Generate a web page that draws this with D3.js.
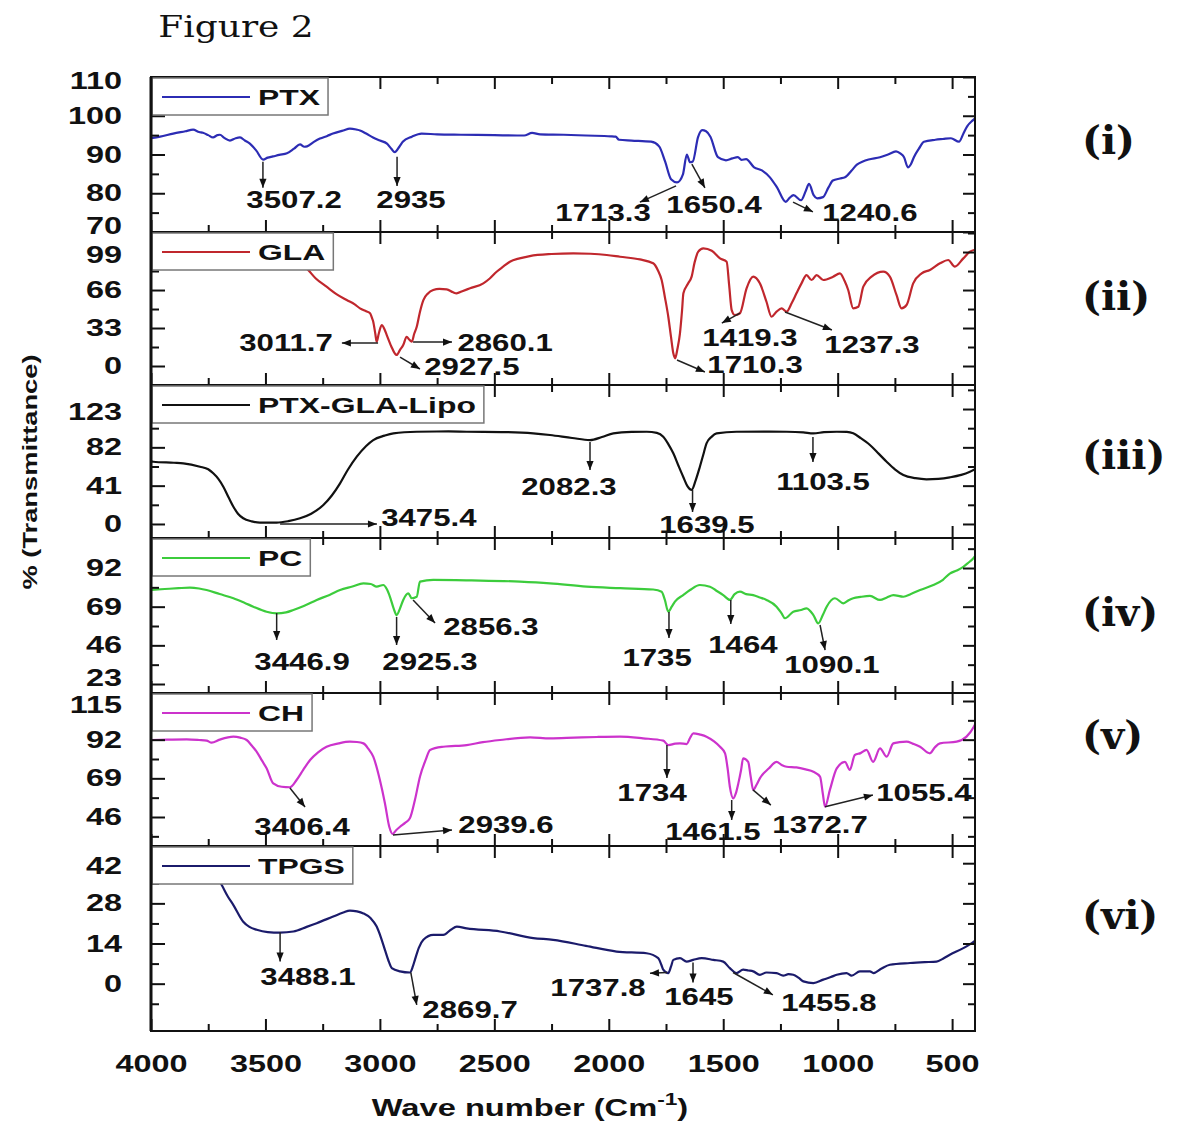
<!DOCTYPE html>
<html>
<head>
<meta charset="utf-8">
<script src="https://cdn.jsdelivr.net/npm/d3@7"></script>
<style>
body { margin: 0; background: #fff; }
svg { display: block; }
text { font-family: "Liberation Sans", Arial, sans-serif; font-weight: bold; fill: #111; }
</style>
</head>
<body>
<svg id="chart" width="1185" height="1126"></svg>
<script>
// spectra: [wave number, % transmittance]
var ptx = [[4000,94.2],[3960,94.6],[3903,95.4],[3850,96.0],[3816,96.4],[3790,95.8],[3773,95.6],[3750,95.0],[3729,94.4],[3710,95.0],[3699,95.1],[3680,94.3],[3655,93.6],[3630,94.2],[3611,94.4],[3590,93.6],[3568,92.8],[3540,91.0],[3510,88.7],[3490,89.2],[3467,89.5],[3440,89.9],[3406,90.3],[3375,91.5],[3349,92.6],[3330,92.0],[3318,92.1],[3290,93.2],[3262,94.1],[3230,94.8],[3205,95.4],[3160,96.2],[3131,96.7],[3100,96.4],[3087,96.2],[3060,95.4],[3030,94.4],[3000,93.6],[2969,92.8],[2950,91.5],[2935,90.6],[2915,92.0],[2900,93.3],[2860,94.6],[2818,95.4],[2750,95.2],[2646,95.1],[2500,95.0],[2400,94.9],[2370,94.9],[2335,95.6],[2300,95.2],[2197,95.1],[2100,94.9],[1990,94.7],[1970,94.6],[1955,93.8],[1900,93.6],[1815,93.3],[1780,92.1],[1754,88.2],[1728,83.6],[1702,82.8],[1676,84.9],[1659,90.0],[1645,88.0],[1633,88.2],[1610,94.5],[1592,96.3],[1575,96.0],[1556,94.6],[1523,89.3],[1488,88.5],[1460,89.0],[1436,89.3],[1420,88.6],[1400,88.8],[1365,86.7],[1331,85.9],[1296,84.1],[1265,81.5],[1227,77.8],[1210,78.8],[1193,79.5],[1160,78.2],[1140,80.5],[1125,82.4],[1105,79.5],[1090,78.7],[1064,79.0],[1040,81.5],[1021,83.3],[990,83.8],[968,84.1],[940,85.8],[916,87.4],[890,88.2],[865,88.7],[815,89.3],[780,90.0],[745,90.8],[725,90.2],[710,89.3],[693,86.7],[680,87.5],[667,89.3],[645,91.5],[623,93.3],[573,93.8],[540,94.0],[505,94.2],[470,93.3],[450,95.5],[435,97.2],[410,98.8],[400,99.3]]

var gla = [[3480,116],[3420,100],[3380,94],[3340,88],[3320,84.8],[3280,76],[3233,68.9],[3190,62.5],[3145,57.3],[3110,53.5],[3087,50.1],[3060,47.5],[3043,45.8],[3035,42],[3029,38.5],[3020,28],[3014,21.1],[3005,28],[2992,35.6],[2980,32],[2970,26.9],[2950,17],[2935,11],[2927,9.6],[2912,14],[2898,18.2],[2883,25.4],[2872,23],[2861,21.1],[2850,28],[2839,34.1],[2825,47],[2810,57.3],[2790,63],[2767,66],[2740,67],[2708,66.6],[2680,64],[2665,63.1],[2640,65],[2606,67.5],[2548,71.8],[2520,76],[2490,81.9],[2460,86.5],[2432,90.6],[2390,93.5],[2345,95.5],[2250,97.3],[2155,97.9],[2080,97.5],[2009,96.4],[1951,94.9],[1864,92.6],[1806,89.2],[1785,83],[1769,74.7],[1755,60],[1740,42.8],[1728,25],[1718,11],[1710,6.7],[1700,15],[1689,28.4],[1680,48],[1674,63.1],[1653,71.8],[1638,77.6],[1625,90],[1609,99.3],[1587,102.2],[1550,100.1],[1514,93.5],[1485,90.6],[1474,70],[1463,48.6],[1449,44.3],[1427,45.8],[1398,67.5],[1369,77.6],[1340,71.8],[1311,55.8],[1289,42.8],[1267,47.2],[1245,50.1],[1223,47.2],[1200,55],[1180,63.1],[1158,71.8],[1136,79],[1114,74.7],[1092,79],[1063,74.7],[1020,77.6],[990,80.5],[970,74],[954,66],[932,50.1],[910,51.5],[888,68.9],[852,77.6],[801,81.9],[772,77.6],[743,61.7],[721,50.1],[699,53],[670,71.8],[633,80.5],[597,83.4],[553,89.2],[517,92.1],[488,86.3],[451,93.5],[422,99.3],[400,101]]

var lipo = [[4000,67],[3990,66.6],[3900,65.5],[3859,64.9],[3786,61.3],[3750,58.5],[3728,54.2],[3705,48],[3684,39.9],[3660,28],[3640,18.5],[3620,11],[3597,6.1],[3560,2.8],[3524,1.4],[3451,1.4],[3400,3],[3349,6.1],[3300,11],[3247,20.3],[3210,30.5],[3174,43.5],[3140,58],[3101,72],[3060,83.5],[3029,89.8],[2980,94.5],[2941,97],[2839,98.7],[2700,99],[2621,98.7],[2450,98.3],[2330,97],[2257,95.2],[2160,92],[2082,89.8],[2030,93],[1980,97],[1900,98.5],[1834,98.7],[1790,97.5],[1762,93.4],[1740,85.5],[1718,75.6],[1695,62],[1675,50.6],[1655,40],[1638,36.4],[1620,47],[1602,61.3],[1585,76],[1573,86.3],[1550,93.5],[1529,97],[1442,98.7],[1300,98.8],[1223,98.7],[1150,98],[1106,97],[1060,98.2],[1004,98.7],[960,98.5],[932,97],[900,92],[859,84.5],[820,75],[786,66.6],[750,58.5],[713,52.4],[660,49],[612,47.8],[560,48.3],[510,49.9],[460,52.5],[422,55.9],[400,58.5]]

var pc = [[4000,79],[3940,79.5],[3880,80],[3830,80.3],[3790,79.8],[3757,78.9],[3700,76.5],[3640,74],[3590,71.2],[3553,69],[3495,66],[3451,65],[3410,65.6],[3378,67],[3330,69.5],[3276,73],[3220,76],[3174,78.9],[3120,81],[3072,82.9],[3040,82.5],[3014,80.9],[2985,81.9],[2970,79.5],[2956,74.9],[2940,68],[2927,64],[2912,68],[2898,73],[2876,76.9],[2861,74],[2839,74.9],[2825,83.9],[2767,84.9],[2600,84.6],[2388,83.9],[2257,82.9],[2097,80.9],[1950,80],[1806,79.2],[1769,77.9],[1755,73],[1740,66],[1725,69],[1711,72],[1675,75.9],[1645,78.9],[1602,81.9],[1558,80.9],[1530,78.5],[1500,75.9],[1471,73],[1450,76.5],[1427,77.9],[1400,76.5],[1369,75.9],[1340,74.5],[1311,73],[1267,69],[1245,65],[1230,62.1],[1194,66],[1160,67],[1136,68],[1106,64],[1085,59.1],[1065,64],[1048,69],[1012,74],[975,71],[950,73],[932,74],[900,74.8],[859,75.4],[815,73],[785,74.5],[757,75.9],[713,74.9],[680,76.5],[640,78.9],[582,81.9],[540,85],[510,88.7],[480,90.5],[451,92.7],[430,95],[408,97.7],[400,99]]

var ch = [[4000,91.8],[3930,92],[3844,92.2],[3790,91.8],[3757,91.4],[3735,90.2],[3700,92],[3640,93.8],[3610,93.2],[3582,91.8],[3560,88.5],[3538,84.8],[3515,79.5],[3495,75],[3466,66],[3429,64],[3393,63.7],[3364,68],[3335,74],[3305,79.9],[3270,84.5],[3233,87.8],[3180,89.8],[3131,90.8],[3100,90.6],[3072,89.8],[3050,86.5],[3029,81.9],[3000,68],[2978,54.2],[2959,40.2],[2944,35.9],[2930,38],[2912,40.2],[2890,42.5],[2869,45.2],[2847,56.1],[2825,70],[2800,80],[2781,85.9],[2723,87.8],[2621,88.8],[2550,90.5],[2475,91.8],[2344,93.4],[2257,92.8],[2150,93.2],[2050,93.6],[1951,93.8],[1850,92.8],[1762,91.4],[1740,88.8],[1710,89.6],[1689,89.8],[1660,89.4],[1645,93],[1631,95.8],[1600,95],[1573,93.8],[1540,91],[1514,87.8],[1492,83.9],[1480,74],[1471,64],[1456,57.1],[1445,60],[1434,66],[1422,74],[1413,80.9],[1391,78.8],[1380,70],[1369,62.1],[1355,65],[1340,69],[1300,75],[1267,78.8],[1245,77],[1223,75.9],[1180,75.5],[1140,74.3],[1106,72.9],[1077,70],[1065,60],[1055,52.1],[1034,62.1],[1004,74.9],[968,78.8],[947,74],[925,82.9],[900,84],[874,85.9],[845,78.8],[815,86.8],[786,81.9],[757,89.8],[730,90.5],[699,90.8],[670,89.5],[640,87.8],[597,83.9],[575,87.5],[553,89.8],[480,90.8],[437,93.8],[405,99.7],[400,101]]

var tpgs = [[3790,48],[3760,44],[3730,39.5],[3691,34.4],[3665,30.5],[3640,27.4],[3597,21.6],[3570,19.8],[3538,18.8],[3490,18],[3436,17.8],[3378,18.2],[3320,19.8],[3276,21.1],[3204,23.4],[3160,24.8],[3131,25.5],[3100,25.2],[3072,24.5],[3040,22.8],[3014,19.9],[2995,16],[2978,11.8],[2960,7.5],[2948,5.4],[2912,4.3],[2869,3.9],[2856,6],[2847,8.3],[2830,12.5],[2810,15.3],[2767,17],[2723,17],[2690,18.8],[2664,19.9],[2621,19.3],[2475,18.2],[2330,15.9],[2243,15.3],[2100,13.2],[1966,11.2],[1835,10.6],[1784,8.9],[1770,6.5],[1762,4.9],[1740,3.7],[1728,6],[1718,8.3],[1689,8.9],[1660,7.7],[1631,8.3],[1594,8.9],[1543,8.3],[1500,7.7],[1471,5.4],[1442,3.7],[1413,4.9],[1390,4.6],[1369,4.3],[1340,3.1],[1311,3.9],[1267,3.7],[1238,2.8],[1215,3.3],[1194,3.1],[1170,2],[1150,0.8],[1106,0.2],[1063,1.4],[1030,2.3],[1004,3.1],[961,3.7],[939,2.8],[903,4.3],[859,4.3],[844,3.7],[810,5.2],[772,6.6],[684,7.2],[620,7.5],[568,7.7],[540,8.7],[510,10.1],[451,12.4],[405,14.7],[400,15]]

// peak labels: text, text anchor point [wn, value], arrow [wn1, v1, wn2, v2]
var ptxPeaks = [['3507.2',3375,78.3,[3511,88.1,3511,81.4]],['2935',2864,78.3,[2925,89.4,2925,81.9]],['1713.3',2025,74.9,[1706,81.9,1864,77.7]],['1650.4',1540,77,[1637,87.5,1580,81.4]],['1240.6',859,74.9,[1195,77.7,1108,75.2]]]
var glaPeaks = [['3011.7',3410,20,[3008,20,3166,20]],['2860.1',2453,20,[2855,20.8,2685,20.8]],['2927.5',2598,-0.9,[2912,7.8,2825,-2.6]],['1710.3',1361,0.9,[1702,5.2,1580,-5.2]],['1419.3',1383,24.3,[1427,46,1506,37.3]],['1237.3',850,18.2,[1230,46.9,1025,31.3]]]
var lipoPeaks = [['3475.4',2786,6.4,[3436,0,3013,0]],['2082.3',2174,39.6,[2082,87.7,2082,57.8]],['1639.5',1571,-1.1,[1634,36.4,1634,12.8]],['1103.5',1064,44.9,[1108,93,1108,66.3]]]
var pcPeaks = [['3446.9',3340,36.1,[3451,65.2,3451,49.2]],['2925.3',2781,36.1,[2927,62.9,2927,46.2]],['2856.3',2515,56.9,[2855,73,2759,59.3]],['1735',1789,38.5,[1737,65.8,1737,50.3]],['1464',1414,46.2,[1467,73,1467,58.7]],['1090.1',1025,34.3,[1077,58.1,1055,43.2]]]
var chPeaks = [['3406.4',3340,40.1,[3393,63.3,3327,51.9]],['2939.6',2449,41.2,[2943,35.3,2685,38.3]],['1734',1811,60.3,[1746,88.8,1746,69.2]],['1461.5',1545,37.1,[1463,56.1,1463,44.2]],['1372.7',1077,41.2,[1370,62.1,1292,53.1]],['1055.4',623,60.3,[1055,52.1,846,59.1]]]
var tpgsPeaks = [['3488.1',3314,2.5,[3436,17.9,3436,7.7]],['2869.7',2606,-9.1,[2865,3.9,2839,-7.4]],['1737.8',2047,-1.4,[1746,3.9,1820,3.6]],['1645',1606,-4.6,[1632,7.4,1632,0.4]],['1455.8',1038,-6.7,[1457,3.9,1283,-3.9]]]

var names = ['PTX','GLA','PTX-GLA-Lipo','PC','CH','TPGS']
var romans = ['(i)','(ii)','(iii)','(iv)','(v)','(vi)']
var yTicks = [[70,80,90,100,110],[0,33,66,99],[0,41,82,123],[23,46,69,92],[46,69,92,115],[0,14,28,42]]
var xTicks = [4000,3500,3000,2500,2000,1500,1000,500]
var xMinor = [3750,3250,2750,2250,1750,1250,750]

// layout
var left = 151, right = 975
var bands = [[77,232],[232,385],[385,538],[538,693],[693,846],[846,1031]]
var yDomains = [[70,110],[-16.5,116.4],[-15,148.7],[17.65,109.85],[28.75,119.76],[-16.5,48]]
var colors = ['#2c2cb4','#c0272d','#111111','#3ccc3c','#cc33cc','#1b1b6b']
var series = [ptx, gla, lipo, pc, ch, tpgs]
var peaks = [ptxPeaks, glaPeaks, lipoPeaks, pcPeaks, chPeaks, tpgsPeaks]
var romanY = [140, 296, 455, 612, 735, 915]

var svg = d3.select('#chart')
var defs = svg.append('defs')
defs.append('marker').attr('id','ah')
  .attr('viewBox','0 0 10 10').attr('refX',10).attr('refY',5)
  .attr('markerWidth',11).attr('markerHeight',9)
  .attr('markerUnits','userSpaceOnUse').attr('orient','auto')
  .append('path').attr('d','M0,1 L10,5 L0,9 Z').attr('fill','#111')

var x = d3.scaleLinear().domain([4000,400]).range([left,right])

function label(parent, px, py, str, size, sx, anchor, extra) {
  var g = parent.append('g').attr('transform','translate('+px+','+py+')'+(extra||'')+' scale('+sx+',1)')
  var t = g.append('text').attr('text-anchor',anchor||'middle').attr('dy','0.35em')
    .style('font-size',size+'px').text(str)
  return t
}

function minorOf(ticks, dom) {
  var step = ticks[1]-ticks[0], out = []
  for (var v = ticks[0]-step/2; v <= dom[1]; v += step) if (v > dom[0]) out.push(v)
  return out
}

function clean(g) {
  g.select('.domain').remove()
  g.selectAll('.tick line').attr('stroke','#111').attr('stroke-width',2)
}

function tickText(g) {
  g.selectAll('.tick text').attr('transform','scale(1.38,1)')
    .style('font-size','23.5px').style('font-family','"Liberation Sans", Arial, sans-serif')
    .style('font-weight','bold').attr('fill','#111')
}

bands.forEach(function(b, i){
  var top = b[0], bottom = b[1]
  var y = d3.scaleLinear().domain(yDomains[i]).range([bottom, top])
  var g = svg.append('g')
  var clipId = 'clip'+i
  defs.append('clipPath').attr('id',clipId).append('rect')
    .attr('x',left).attr('y',top).attr('width',right-left).attr('height',bottom-top)

  // spectrum
  var line = d3.line().x(function(d){return x(d[0])}).y(function(d){return y(d[1])}).curve(d3.curveMonotoneX)
  g.append('path').datum(series[i]).attr('clip-path','url(#'+clipId+')')
    .attr('d',line).attr('fill','none').attr('stroke',colors[i]).attr('stroke-width',2.2)
    .attr('stroke-linejoin','round')

  // ticks
  var minors = minorOf(yTicks[i], yDomains[i])
  var la = g.append('g').attr('transform','translate('+left+',0)')
    .call(d3.axisLeft(y).tickValues(yTicks[i]).tickSize(-14).tickPadding(21))
  clean(la)
  tickText(la)
  // labels sitting on a panel edge are pulled inside it so neighbours don't collide
  la.selectAll('.tick text').attr('y', function(d){
    var py = y(d)
    return py > bottom - 12 ? -6 : (py < top + 12 ? 4 : (py < top + 25 ? 3 : 0))
  })
  g.append('g').attr('transform','translate('+left+',0)')
    .call(d3.axisLeft(y).tickValues(minors).tickSize(-8).tickFormat('')).call(clean)
  g.append('g').attr('transform','translate('+right+',0)')
    .call(d3.axisRight(y).tickValues(yTicks[i]).tickSize(-12).tickFormat('')).call(clean)
  g.append('g').attr('transform','translate('+right+',0)')
    .call(d3.axisRight(y).tickValues(minors).tickSize(-7).tickFormat('')).call(clean)
  g.append('g').attr('transform','translate(0,'+top+')')
    .call(d3.axisTop(x).tickValues(xTicks).tickSize(-12).tickFormat('')).call(clean)
  g.append('g').attr('transform','translate(0,'+top+')')
    .call(d3.axisTop(x).tickValues(xMinor).tickSize(-7).tickFormat('')).call(clean)
  var ba = g.append('g').attr('transform','translate(0,'+bottom+')')
    .call(d3.axisBottom(x).tickValues(xTicks).tickSize(-12).tickPadding(24)
      .tickFormat(i === 5 ? d3.format('d') : ''))
  clean(ba)
  tickText(ba)
  g.append('g').attr('transform','translate(0,'+bottom+')')
    .call(d3.axisBottom(x).tickValues(xMinor).tickSize(-7).tickFormat('')).call(clean)

  // frame
  g.append('rect').attr('x',left).attr('y',top).attr('width',right-left).attr('height',bottom-top)
    .attr('fill','none').attr('stroke','#111').attr('stroke-width',2)

  // legend
  var lg = g.append('g')
  var box = lg.append('rect').attr('x',left+1).attr('y',top+1).attr('height',37)
    .attr('fill','#fff').attr('stroke','#777').attr('stroke-width',1.5)
  lg.append('line').attr('x1',162).attr('x2',250).attr('y1',top+20).attr('y2',top+20)
    .attr('stroke',colors[i]).attr('stroke-width',2.2)
  var lt = label(lg, 258, top+20, names[i], 22, 1.45, 'start')
  box.attr('width', 258 + lt.node().getComputedTextLength()*1.45 + 8 - left - 1)

  // peak labels
  peaks[i].forEach(function(p){
    var a = p[3]
    g.append('line').attr('x1',x(a[0])).attr('y1',y(a[1])).attr('x2',x(a[2])).attr('y2',y(a[3]))
      .attr('stroke','#222').attr('stroke-width',1.5).attr('marker-end','url(#ah)')
    label(g, x(p[1]), y(p[2]), p[0], 24, 1.3, 'middle')
  })

  // panel numeral
  svg.append('text').attr('x',1082).attr('y',romanY[i]).attr('dy','0.35em')
    .style('font-family','"DejaVu Serif", serif').style('font-size','40px').style('font-weight','bold')
    .text(romans[i])
})

// left axis line is heavier
svg.append('line').attr('x1',left).attr('x2',left).attr('y1',77).attr('y2',1031)
  .attr('stroke','#111').attr('stroke-width',3)

// titles
var ft = label(svg, 236, 27, 'Figure 2', 29, 1.24, 'middle')
ft.style('font-family','"DejaVu Serif", serif').style('font-weight','normal').attr('fill','#333')

label(svg, 30, 472, '% (Transmittance)', 21, 1.3, 'middle', ' rotate(-90)')

var xt = svg.append('g').attr('transform','translate(530,1116) scale(1.42,1)')
  .append('text').attr('text-anchor','middle').style('font-size','23px')
xt.append('tspan').text('Wave number (Cm')
xt.append('tspan').attr('dy',-11).style('font-size','16px').text('-1')
xt.append('tspan').attr('dy',11).text(')')
</script>
</body>
</html>
